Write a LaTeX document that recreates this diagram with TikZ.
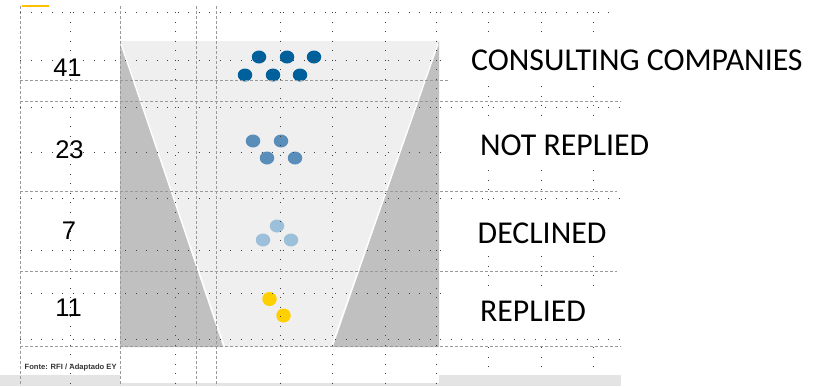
\documentclass[tikz,border=0pt]{standalone}
\usepackage{fontspec}
\setmainfont{Carlito}
\newfontfamily\arialf{Liberation Sans}
\usetikzlibrary{shapes.geometric}
\definecolor{boxgray}{HTML}{EFEFEF}
\definecolor{sidegray}{HTML}{C0C0C0}
\definecolor{stripgray}{HTML}{E4E4E4}
\definecolor{blueA}{HTML}{00609C}
\definecolor{blueB}{HTML}{5A8EBA}
\definecolor{blueC}{HTML}{9CC0DA}
\definecolor{yel}{HTML}{FFD000}
\definecolor{topyel}{HTML}{FFC000}
\tikzset{
  guidedash/.style={draw=black!40, line width=0.6pt, dash pattern=on 3pt off 2pt},
  guidedot/.style={draw=black!75, line width=0.8pt, dash pattern=on 0.8pt off 9.7pt},
  guidedotv/.style={draw=black!75, line width=0.8pt, dash pattern=on 0.8pt off 8.7pt},
  ball/.style={ellipse, minimum width=14.5pt, minimum height=13pt, inner sep=0pt, draw=none},
  numlbl/.style={font=\arialf\fontsize{25.5}{26}\selectfont, inner sep=0pt},
  catlbl/.style={font=\fontsize{31.8}{32}\selectfont, anchor=west, inner sep=0pt},
}
\begin{document}
\begin{tikzpicture}[x=1pt,y=-1pt]
\useasboundingbox (0,0) rectangle (819,386);
% background pieces
\fill[stripgray] (0,375) rectangle (621,386);
\fill[white] (120,347) rectangle (439,383);
\fill[boxgray] (120,41) rectangle (439,347);
\fill[sidegray] (120,41) -- (223,347) -- (120,347) -- cycle;
\fill[sidegray] (439,41) -- (333,347) -- (439,347) -- cycle;
\draw[white, line width=1.3pt] (121,44) -- (224.5,347);
\draw[white, line width=1.3pt] (438,44) -- (331.5,347);
% top yellow mark
\draw[topyel, line width=2pt] (22,6) -- (49,6);
% dots
\node[ball, fill=blueA] (a1) at (259,57) {};
\node[ball, fill=blueA] (a2) at (287,57) {};
\node[ball, fill=blueA] (a3) at (314,57) {};
\node[ball, fill=blueA] (a4) at (245,75) {};
\node[ball, fill=blueA] (a5) at (273,75) {};
\node[ball, fill=blueA] (a6) at (300,75) {};
\node[ball, fill=blueB] (b1) at (253,141) {};
\node[ball, fill=blueB] (b2) at (281,141) {};
\node[ball, fill=blueB] (b3) at (267,158) {};
\node[ball, fill=blueB] (b4) at (295,158) {};
\node[ball, fill=blueC] (c1) at (277,226) {};
\node[ball, fill=blueC] (c2) at (263,240) {};
\node[ball, fill=blueC] (c3) at (291,240) {};
\node[ball, fill=yel, minimum height=14pt] (y1) at (269.5,299) {};
\node[ball, fill=yel, minimum height=14pt] (y2) at (283.5,315.5) {};
% guides: vertical dashed
\foreach \x in {20,120,196,216.5} \draw[guidedash] (\x,6) -- (\x,386);
% vertical dotted
\foreach \x in {70,175,280,332,385,436} \draw[guidedotv] (\x,12) -- (\x,386);
\foreach \x in {488.5,541,593} {
  \draw[guidedotv] (\x,12) -- (\x,32);
  \draw[guidedotv] (\x,86) -- (\x,116);
  \draw[guidedotv] (\x,170) -- (\x,200);
  \draw[guidedotv] (\x,256) -- (\x,285);
  \draw[guidedotv] (\x,347) -- (\x,370);
}
% horizontal dashed
\draw[guidedash] (20,80) -- (449,80);
\draw[guidedash] (20,101) -- (621,101);
\draw[guidedash] (20,191) -- (617,191);
\draw[guidedash] (20,271.5) -- (617,271.5);
\draw[guidedash] (20,346) -- (621,346);
% horizontal dotted
\draw[guidedot] (20,12) -- (616,12);
\draw[guidedot] (20,60) -- (450,60);
\draw[guidedot] (20,107.5) -- (620,107.5);
\draw[guidedot] (20,152) -- (450,152);
\draw[guidedot] (20,198.5) -- (620,198.5);
\draw[guidedot] (20,250) -- (450,250);
\draw[guidedot] (20,293) -- (450,293);
\draw[guidedot] (20,339.5) -- (620,339.5);
% numbers
\node[numlbl] (n41) at (67.5,68) {41};
\node[numlbl] (n23) at (69.5,150) {23};
\node[numlbl] (n7) at (69,231) {7};
\node[numlbl] (n11) at (68.5,307.5) {11};
% category labels
\node[catlbl] (l1) at (471,60.5) {CONSULTING COMPANIES};
\node[catlbl] (l2) at (480,145) {NOT REPLIED};
\node[catlbl] (l3) at (477.5,233) {DECLINED};
\node[catlbl] (l4) at (480,311.5) {REPLIED};
% source
\node[anchor=west, inner sep=0pt, font=\arialf\bfseries\fontsize{7.6}{8}\selectfont, text=black!80] (src) at (24.5,368) {Fonte: RFI / Adaptado EY};
\end{tikzpicture}
\end{document}
